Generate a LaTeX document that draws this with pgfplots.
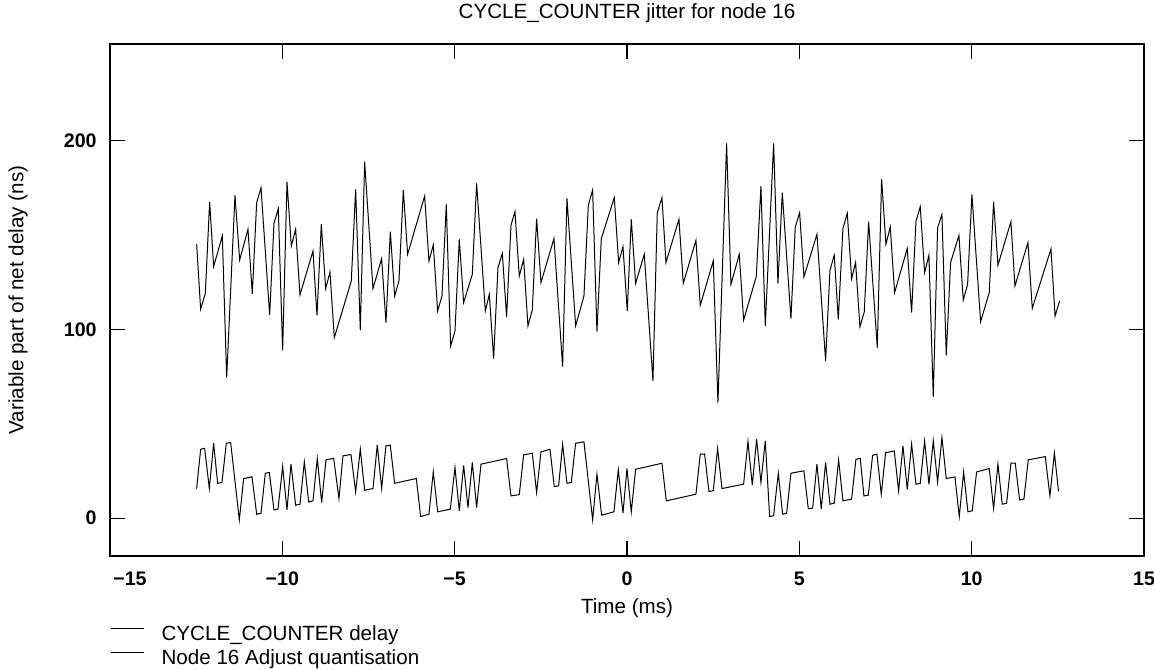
\documentclass[border=0pt]{standalone}
\usepackage{pgfplots}
\pgfplotsset{compat=1.18}
\usepackage{fontspec}
\setmainfont{Liberation Sans}

\pgfplotstableread{
x y
-12.486 145.0
-12.370 110.6
-12.234 119.0
-12.109 167.4
-11.993 133.2
-11.741 149.4
-11.615 74.4
-11.374 170.9
-11.238 136.7
-10.997 152.9
-10.871 118.8
-10.745 167.0
-10.619 174.9
-10.368 107.6
-10.242 156.1
-10.117 163.8
-9.991 88.9
-9.865 177.9
-9.739 144.1
-9.614 152.9
-9.488 118.2
-9.111 141.4
-8.995 107.4
-8.869 155.6
-8.743 121.5
-8.618 130.3
-8.492 95.6
-7.999 125.6
-7.873 174.1
-7.738 99.6
-7.612 188.7
-7.370 121.5
-7.119 137.4
-6.993 103.5
-6.867 151.7
-6.742 117.6
-6.616 125.6
-6.490 173.7
-6.365 139.7
-5.871 170.5
-5.746 136.1
-5.620 144.6
-5.494 109.7
-5.368 117.6
-5.243 166.1
-5.117 91.2
-4.991 99.1
-4.866 147.6
-4.740 114.1
-4.488 129.1
-4.363 177.2
-4.111 109.7
-3.995 118.5
-3.870 84.5
-3.744 132.6
-3.618 140.2
-3.493 106.5
-3.367 155.0
-3.251 162.3
-3.125 128.2
-2.999 137.0
-2.874 101.8
-2.748 110.2
-2.622 158.6
-2.496 124.7
-2.119 148.0
-1.868 80.3
-1.742 169.3
-1.490 101.8
-1.249 117.6
-1.123 165.6
-0.997 173.7
-0.872 98.8
-0.746 148.0
-0.369 169.7
-0.243 135.3
-0.117 143.7
0.008 109.7
0.124 158.2
0.250 124.3
0.501 139.7
0.753 72.7
0.878 161.7
1.014 169.7
1.130 135.3
1.507 158.2
1.633 124.3
2.000 147.1
2.126 112.7
2.503 136.2
2.638 61.2
2.890 198.4
3.016 123.8
3.257 139.7
3.383 104.9
3.751 127.9
3.886 175.8
4.012 101.8
4.254 198.4
4.379 124.2
4.505 172.3
4.756 105.6
4.882 154.1
5.008 161.7
5.133 127.7
5.511 150.3
5.762 83.3
5.888 131.2
6.013 139.2
6.130 105.3
6.265 153.4
6.391 161.4
6.516 126.8
6.632 135.3
6.758 101.3
6.884 109.2
7.010 157.0
7.261 90.3
7.387 179.4
7.512 145.0
7.638 154.2
7.764 119.4
8.131 142.8
8.257 108.8
8.383 157.0
8.508 164.9
8.634 130.0
8.760 139.2
8.886 64.4
9.011 153.8
9.137 160.8
9.263 86.2
9.388 135.3
9.630 149.7
9.756 115.5
9.882 123.8
10.007 171.4
10.259 104.0
10.510 119.4
10.636 167.5
10.762 133.9
11.139 157.0
11.255 122.9
11.632 145.9
11.758 111.1
12.300 142.5
12.420 107.0
12.550 115.0
}\cycledelay

\pgfplotstableread{
x y
-12.486 15.7
-12.370 36.5
-12.254 37.0
-12.118 15.7
-11.993 39.7
-11.877 18.5
-11.751 18.9
-11.625 39.7
-11.499 40.0
-11.248 -0.9
-11.122 21.0
-10.880 21.9
-10.745 2.1
-10.619 2.6
-10.494 23.8
-10.378 24.2
-10.242 4.4
-10.126 4.8
-9.991 27.3
-9.865 4.4
-9.749 28.6
-9.614 6.9
-9.488 7.4
-9.362 29.8
-9.236 8.6
-9.111 9.2
-8.985 31.6
-8.859 8.3
-8.734 30.9
-8.511 31.7
-8.357 10.4
-8.241 33.0
-8.008 33.7
-7.873 13.9
-7.738 36.5
-7.612 14.8
-7.370 15.7
-7.245 38.8
-7.119 15.7
-6.993 38.3
-6.867 38.6
-6.742 18.5
-6.113 21.0
-5.987 0.9
-5.746 2.1
-5.620 24.5
-5.494 3.4
-5.127 4.8
-4.991 26.8
-4.866 3.9
-4.740 28.0
-4.614 5.6
-4.488 29.5
-4.363 5.6
-4.237 28.6
-3.493 31.6
-3.367 11.8
-3.125 12.5
-2.999 33.5
-2.748 34.4
-2.622 13.6
-2.496 35.1
-2.235 36.5
-2.110 16.8
-1.984 17.1
-1.868 39.2
-1.742 18.5
-1.616 18.9
-1.491 39.7
-1.249 40.4
-0.997 -0.9
-0.872 23.3
-0.736 1.6
-0.379 3.4
-0.253 25.6
-0.117 2.7
-0.001 26.3
0.124 3.4
0.250 25.9
1.014 29.1
1.140 9.2
2.000 12.7
2.126 33.9
2.252 34.0
2.377 14.1
2.503 14.6
2.629 37.0
2.755 15.7
3.383 18.0
3.509 40.6
3.635 17.5
3.760 41.8
3.886 18.9
4.012 40.9
4.138 0.9
4.253 1.3
4.389 23.8
4.515 2.1
4.631 2.6
4.756 23.8
5.133 25.1
5.259 5.1
5.385 5.3
5.511 28.6
5.636 4.8
5.762 29.5
5.888 7.4
6.013 8.0
6.139 30.9
6.265 9.2
6.516 10.1
6.642 31.2
6.768 31.6
6.874 11.8
7.000 12.2
7.126 33.3
7.251 33.9
7.377 12.7
7.503 34.7
7.754 35.6
7.880 14.5
8.006 38.3
8.131 15.3
8.257 39.2
8.383 18.0
8.508 18.5
8.634 40.9
8.760 18.0
8.886 40.9
9.011 19.2
9.137 42.7
9.263 21.0
9.514 21.9
9.640 0.9
9.766 24.5
9.891 3.4
10.017 3.9
10.143 24.5
10.510 26.3
10.636 5.1
10.762 28.6
10.887 7.4
11.013 7.9
11.139 29.1
11.265 29.1
11.390 9.7
11.516 10.1
11.641 30.9
12.135 32.6
12.270 11.8
12.400 34.5
12.520 14.2
}\adjustq

\begin{document}
\begin{tikzpicture}
\useasboundingbox (-55pt,-56pt) rectangle (522pt,278pt);
\begin{axis}[
  scale only axis,
  width=517pt, height=256pt,
  xmin=-15, xmax=15, ymin=-20, ymax=251,
  axis line style={line width=0.65pt},
  every tick/.style={line width=0.65pt, black},
  major tick length=7.5pt,
  tick align=inside,
  xtick pos=both, ytick pos=both,
  xtick={-15,-10,-5,0,5,10,15},
  xticklabels={\hspace*{20pt}−15,−10,−5,0,5,10,15},
  ytick={0,100,200},
  yticklabels={0,100,200},
  xticklabel style={font=\fontsize{9.8}{12}\selectfont\bfseries, anchor=base, inner sep=0pt, yshift=-14.5pt},
  yticklabel style={font=\fontsize{9.8}{12}\selectfont\bfseries, anchor=east, inner sep=0pt, xshift=-6.5pt},
  title={CYCLE\_COUNTER jitter for node 16},
  title style={at={(axis description cs:0.5,1)}, anchor=base, yshift=6.5pt, inner sep=0pt, font=\fontsize{10.3}{12}\selectfont},
  xlabel={Time (ms)},
  xlabel style={at={(axis description cs:0.5,0)}, anchor=base, yshift=-28.5pt, inner sep=0pt, font=\fontsize{10.3}{12}\selectfont},
  ylabel={Variable part of net delay (ns)},
  ylabel style={at={(axis description cs:-0.08897,0.5)}, anchor=center, inner sep=0pt, font=\fontsize{10.3}{12}\selectfont},
  legend image code/.code={\draw[#1] (0pt,0pt) -- (16pt,0pt); \path (24.8pt,0pt);},
  legend cell align=left,
  legend style={draw=none, fill=none, inner sep=0pt, outer sep=0pt, row sep=0pt,
    at={(axis description cs:0,0)}, anchor=north west, xshift=0.5pt, yshift=-30pt,
    font=\fontsize{10.3}{12}\selectfont,
    nodes={inner sep=0pt, text height=12pt, text depth=0pt}},
]
\addplot[black, line width=0.5pt] table[x=x,y=y] {\cycledelay};
\addlegendentry{CYCLE\_COUNTER delay}
\addplot[black, line width=0.5pt] table[x=x,y=y] {\adjustq};
\addlegendentry{Node 16 Adjust quantisation}
\end{axis}
\end{tikzpicture}
\end{document}
